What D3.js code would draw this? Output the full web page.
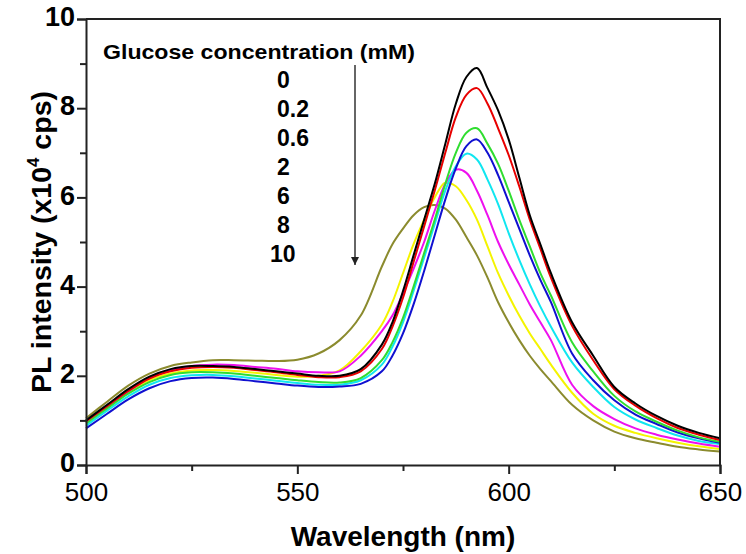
<!DOCTYPE html>
<html>
<head>
<meta charset="utf-8">
<script src="https://cdn.jsdelivr.net/npm/d3@7"></script>
<style>
  body { margin: 0; background: #fff; }
  svg { display: block; }
  text { font-family: "Liberation Sans", Arial, Helvetica, sans-serif; fill: #000; }
</style>
</head>
<body>
<svg id="chart" width="746" height="554"></svg>
<script>
// Emission wavelength grid (nm)
const wavelength = [500, 505, 510, 515, 520, 525, 530, 535, 540, 545, 550, 555, 560,
  565, 570, 572.5, 575, 577.5, 580, 582.5, 585, 587.5, 590, 592.5, 595, 597.5, 600, 602.5, 605, 607.5, 610,
  615, 620, 625, 630, 635, 640, 645, 650];

// PL intensity spectra (x10^4 cps), one per glucose level
const specBlack = [1.0, 1.35, 1.7, 1.98, 2.15, 2.22, 2.22, 2.2, 2.15, 2.1, 2.05, 2.0, 2.0,
  2.15, 2.7, 3.2, 3.9, 4.7, 5.5, 6.3, 7.2, 8.1, 8.7, 8.9, 8.45, 7.95, 7.3, 6.45, 5.6, 4.95, 4.3,
  3.2, 2.45, 1.75, 1.38, 1.1, 0.88, 0.72, 0.6];
const specRed = [0.98, 1.32, 1.66, 1.94, 2.1, 2.18, 2.2, 2.18, 2.13, 2.08, 2.02, 1.97, 1.97,
  2.1, 2.6, 3.1, 3.75, 4.55, 5.35, 6.15, 7.0, 7.8, 8.3, 8.45, 8.1, 7.55, 6.95, 6.25, 5.5, 4.85, 4.2,
  3.12, 2.35, 1.7, 1.33, 1.05, 0.83, 0.68, 0.56];
const specGreen = [0.93, 1.27, 1.6, 1.86, 2.02, 2.08, 2.08, 2.05, 2.0, 1.95, 1.9, 1.86, 1.85,
  1.95, 2.35, 2.75, 3.3, 4.0, 4.75, 5.5, 6.3, 7.0, 7.45, 7.55, 7.2, 6.75, 6.15, 5.5, 4.9, 4.3, 3.8,
  2.75, 2.1, 1.55, 1.2, 0.97, 0.77, 0.62, 0.52];
const specBlue = [0.82, 1.15, 1.47, 1.72, 1.88, 1.95, 1.96, 1.93, 1.88, 1.83, 1.78, 1.75, 1.76,
  1.82, 2.1, 2.45, 2.95, 3.6, 4.35, 5.15, 5.95, 6.65, 7.15, 7.3, 7.0, 6.5, 5.9, 5.3, 4.7, 4.15, 3.65,
  2.5, 1.9, 1.45, 1.13, 0.92, 0.73, 0.6, 0.5];
const specCyan = [0.88, 1.22, 1.54, 1.8, 1.95, 2.01, 2.02, 1.99, 1.94, 1.89, 1.84, 1.8, 1.8,
  1.9, 2.25, 2.65, 3.2, 3.9, 4.65, 5.4, 6.15, 6.7, 6.98, 6.85, 6.4, 5.85, 5.2, 4.6, 4.05, 3.55, 3.1,
  2.3, 1.75, 1.3, 1.02, 0.83, 0.66, 0.54, 0.47];
const specMagenta = [0.95, 1.3, 1.65, 1.95, 2.12, 2.22, 2.25, 2.24, 2.2, 2.16, 2.1, 2.08, 2.1,
  2.45, 3.0, 3.35, 3.85, 4.4, 5.0, 5.7, 6.3, 6.62, 6.55, 6.15, 5.6, 5.0, 4.5, 4.05, 3.6, 3.2, 2.8,
  1.8, 1.32, 1.03, 0.82, 0.68, 0.57, 0.48, 0.41];
const specYellow = [0.97, 1.3, 1.62, 1.9, 2.05, 2.12, 2.13, 2.11, 2.07, 2.02, 1.98, 2.0, 2.12,
  2.55, 3.15, 3.65, 4.3, 4.95, 5.5, 6.0, 6.33, 6.25, 5.94, 5.5, 4.9, 4.3, 3.8, 3.35, 2.95, 2.6, 2.25,
  1.62, 1.15, 0.88, 0.72, 0.6, 0.5, 0.42, 0.36];
const specOlive = [1.05, 1.42, 1.78, 2.05, 2.22, 2.3, 2.35, 2.35, 2.34, 2.33, 2.36, 2.5, 2.8,
  3.35, 4.45, 4.95, 5.3, 5.6, 5.78, 5.83, 5.75, 5.5, 5.11, 4.7, 4.2, 3.65, 3.2, 2.8, 2.45, 2.15, 1.88,
  1.35, 1.0, 0.75, 0.6, 0.5, 0.41, 0.35, 0.3];

const concentrationLabels = ["0", "0.2", "0.6", "2", "6", "8", "10"];
const xTickValues = [500, 550, 600, 650];
const xMinorTicks = [525, 575, 625];
const yTickValues = [0, 2, 4, 6, 8, 10];
const yMinorTicks = [1, 3, 5, 7, 9];

// Drawing order: back to front
const spectra = [
  { values: specOlive,   color: "#8b8b2e" },
  { values: specYellow,  color: "#f4f400" },
  { values: specMagenta, color: "#ee10ee" },
  { values: specCyan,    color: "#10e6f0" },
  { values: specBlue,    color: "#1010d0" },
  { values: specGreen,   color: "#30dd30" },
  { values: specRed,     color: "#e80000" },
  { values: specBlack,   color: "#000000" }
];

const svg = d3.select("#chart");
const plot = { left: 86, right: 720, top: 19, bottom: 465 };

const x = d3.scaleLinear().domain([500, 650]).range([plot.left, plot.right]);
const y = d3.scaleLinear().domain([0, 10]).range([plot.bottom, plot.top]);

svg.append("rect").attr("width", 746).attr("height", 554).attr("fill", "#fff");

// Spectra
const line = d3.line()
  .x((d, i) => x(wavelength[i]))
  .y(d => y(d))
  .curve(d3.curveCatmullRom.alpha(0.5));

svg.append("g").selectAll("path")
  .data(spectra)
  .join("path")
  .attr("d", d => line(d.values))
  .attr("fill", "none")
  .attr("stroke", d => d.color)
  .attr("stroke-width", 2)
  .attr("stroke-linejoin", "round");

// Frame (top and right edges)
svg.append("path")
  .attr("d", `M${plot.left},${plot.top}H${plot.right}V${plot.bottom}`)
  .attr("fill", "none").attr("stroke", "#222").attr("stroke-width", 2);

// X axis
const xAxis = svg.append("g").attr("transform", `translate(0,${plot.bottom})`)
  .call(d3.axisBottom(x).tickValues(xTickValues).tickSize(9).tickPadding(9).tickFormat(d3.format("d")));
svg.append("g").attr("transform", `translate(0,${plot.bottom})`)
  .call(d3.axisBottom(x).tickValues(xMinorTicks).tickSize(6).tickFormat(""))
  .call(g => g.select(".domain").remove());

// Y axis
const yAxis = svg.append("g").attr("transform", `translate(${plot.left},0)`)
  .call(d3.axisLeft(y).tickValues(yTickValues).tickSize(9).tickPadding(2).tickFormat(d3.format("d")));
svg.append("g").attr("transform", `translate(${plot.left},0)`)
  .call(d3.axisLeft(y).tickValues(yMinorTicks).tickSize(6).tickFormat(""))
  .call(g => g.select(".domain").remove());

svg.selectAll(".domain").attr("stroke", "#222").attr("stroke-width", 2);
svg.selectAll(".tick line").attr("stroke", "#222").attr("stroke-width", 2);

xAxis.selectAll(".tick text")
  .attr("font-size", 26).attr("font-family", "Liberation Sans, Arial, sans-serif")
  .attr("fill", "#000");
yAxis.selectAll(".tick text")
  .attr("font-size", 27).attr("font-weight", "bold").attr("dy", "0.25em")
  .attr("font-family", "Liberation Sans, Arial, sans-serif")
  .attr("fill", "#000");

// Axis titles
svg.append("text")
  .attr("x", (plot.left + plot.right) / 2).attr("y", 546)
  .attr("text-anchor", "middle").attr("font-size", 28).attr("font-weight", "bold")
  .text("Wavelength (nm)");

const yTitle = svg.append("text")
  .attr("transform", `translate(51,${(plot.top + plot.bottom) / 2}) rotate(-90)`)
  .attr("text-anchor", "middle").attr("font-size", 28.5).attr("font-weight", "bold");
yTitle.append("tspan").text("PL intensity (x10");
yTitle.append("tspan").attr("font-size", 17).attr("dy", -12).text("4");
yTitle.append("tspan").attr("dy", 12).text(" cps)");

// Concentration legend
svg.append("text")
  .attr("x", 103).attr("y", 59)
  .attr("font-size", 21).attr("font-weight", "bold")
  .attr("textLength", 312).attr("lengthAdjust", "spacingAndGlyphs")
  .text("Glucose concentration (mM)");

svg.append("g").selectAll("text")
  .data(concentrationLabels)
  .join("text")
  .attr("x", d => d.length === 2 ? 270 : 277)
  .attr("y", (d, i) => 88 + i * 29)
  .attr("font-size", 23).attr("font-weight", "bold")
  .text(d => d);

// Arrow indicating increasing concentration
svg.append("defs").append("marker")
  .attr("id", "arrowHead").attr("viewBox", "0 0 10 10")
  .attr("refX", 10).attr("refY", 5)
  .attr("markerWidth", 13).attr("markerHeight", 8)
  .attr("markerUnits", "userSpaceOnUse")
  .attr("orient", "auto")
  .append("path").attr("d", "M0,0L10,5L0,10Z").attr("fill", "#222");

svg.append("line")
  .attr("x1", 355).attr("y1", 65).attr("x2", 355).attr("y2", 265)
  .attr("stroke", "#333").attr("stroke-width", 1.5)
  .attr("marker-end", "url(#arrowHead)");
</script>
</body>
</html>
